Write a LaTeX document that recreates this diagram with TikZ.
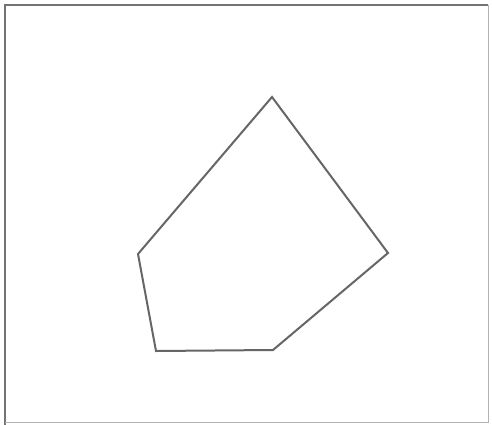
\documentclass[tikz,border=0pt]{standalone}
\begin{document}
\begin{tikzpicture}[x=1pt,y=-1pt,
  poly/.style={draw=black!60, line width=2pt, line join=miter},
  frame/.style={draw=black!55, line width=2pt}]
\useasboundingbox (0,0) rectangle (492,425);
\fill[white] (0,0) rectangle (492,425);
\draw[frame] (5,425) -- (5,5) -- (488,5);
\draw[draw=black!30, line width=1pt] (488,5) -- (488,422) -- (5,422);
\coordinate (A) at (272,97);
\coordinate (B) at (388,253);
\coordinate (C) at (273,350);
\coordinate (D) at (156,351);
\coordinate (E) at (138,254);
\draw[poly] (A) -- (B) -- (C) -- (D) -- (E) -- cycle;
\end{tikzpicture}
\end{document}
